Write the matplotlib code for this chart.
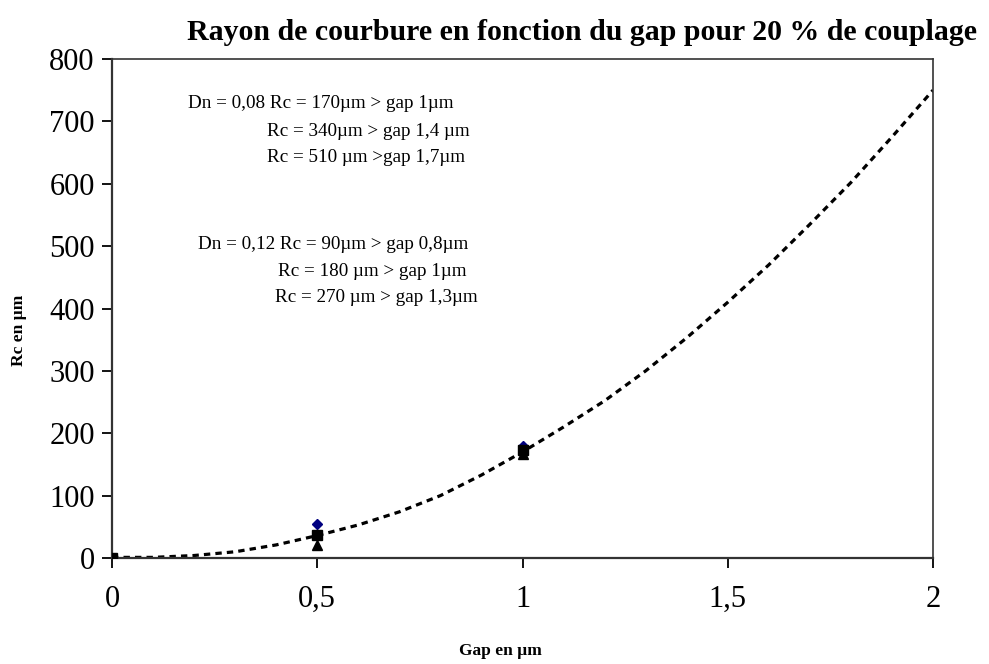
import matplotlib
matplotlib.use("Agg")
import matplotlib.pyplot as plt

# Measured points for the three coupling series
gap_pts = [0, 0.5, 1]
rc_diamond = [0, 54, 180]
rc_square = [0, 37, 173]
rc_triangle = [0, 21, 166]

# Trend curve of Rc versus gap
trend_gap = [0, 0.1, 0.2, 0.3, 0.4, 0.5, 0.6, 0.7, 0.8, 0.9, 1.0,
             1.1, 1.2, 1.3, 1.4, 1.5, 1.6, 1.7, 1.8, 1.9, 2.0]
trend_rc = [1, 1, 4, 10, 21, 36, 53, 74, 100, 133, 170,
            210, 252, 300, 353, 410, 470, 535, 602, 675, 750]

x_ticks = [0, 0.5, 1, 1.5, 2]
x_tick_labels = ["0", "0,5", "1", "1,5", "2"]
y_ticks = [0, 100, 200, 300, 400, 500, 600, 700, 800]

notes_a = ["Dn = 0,08 Rc = 170µm > gap 1µm",
           "Rc = 340µm > gap 1,4 µm",
           "Rc = 510 µm >gap 1,7µm"]
notes_b = ["Dn = 0,12 Rc = 90µm > gap 0,8µm",
           "Rc = 180 µm > gap 1µm",
           "Rc = 270 µm > gap 1,3µm"]

plt.rcParams["font.family"] = ["Liberation Serif", "DejaVu Serif"]

W, H = 989, 664
fig = plt.figure(figsize=(W / 100, H / 100), dpi=100)
ax = fig.add_axes([112 / W, 1 - 558 / H, (933 - 112) / W, (558 - 59) / H])

ax.plot(trend_gap, trend_rc, color="black", lw=2.3,
        linestyle=(0, (2.0, 1.6)), zorder=2)
ax.plot(gap_pts, rc_diamond, linestyle="none", marker="D", ms=5.5,
        color="#000080", zorder=3)
ax.plot(gap_pts, rc_square, linestyle="none", marker="s", ms=6.5,
        color="black", zorder=4)
ax.plot(gap_pts, rc_triangle, linestyle="none", marker="^", ms=7,
        color="black", zorder=3)

ax.set_xlim(0, 2)
ax.set_ylim(0, 800)
ax.set_xticks(x_ticks)
ax.set_xticklabels(x_tick_labels)
ax.set_yticks(y_ticks)
ax.tick_params(axis="both", direction="out", length=7.5, width=1.3,
               labelsize=22, colors="black")
ax.tick_params(axis="x", pad=12)
ax.tick_params(axis="y", pad=5)

for side in ["left", "bottom"]:
    ax.spines[side].set_linewidth(1.6)
    ax.spines[side].set_color("#333333")
for side in ["top", "right"]:
    ax.spines[side].set_linewidth(1.2)
    ax.spines[side].set_color("#333333")

fig.text(500 / W, 1 - 651 / H, "Gap en µm", ha="center", va="center",
         fontsize=12.5, fontweight="bold")
fig.text(19 / W, 1 - 330 / H, "Rc en µm", ha="center", va="center",
         rotation=90, fontsize=12.5, fontweight="bold")

fig.text(582 / W, 1 - 32 / H,
         "Rayon de courbure en fonction du gap pour 20 % de couplage",
         ha="center", va="center", fontsize=21.5, fontweight="bold")

note_x_a = [188, 267, 267]
note_y_a = [104, 131, 158]
for t, xp, yp in zip(notes_a, note_x_a, note_y_a):
    fig.text(xp / W, 1 - yp / H, t, ha="left", va="center", fontsize=13.8)

note_x_b = [198, 278, 275]
note_y_b = [245, 272, 298]
for t, xp, yp in zip(notes_b, note_x_b, note_y_b):
    fig.text(xp / W, 1 - yp / H, t, ha="left", va="center", fontsize=13.8)

fig.savefig("out.png", dpi=100)
